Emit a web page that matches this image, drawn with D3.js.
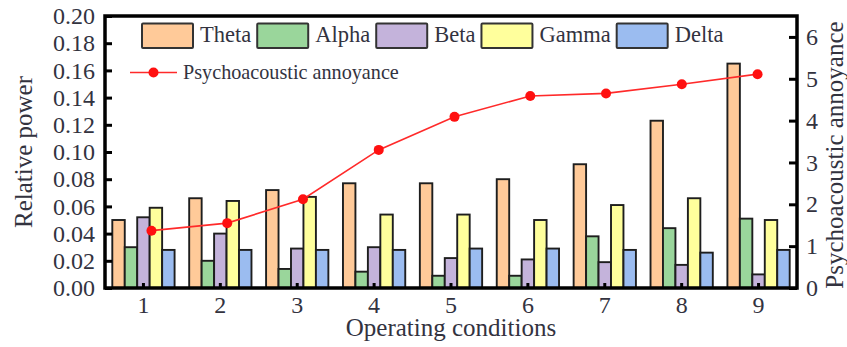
<!DOCTYPE html>
<html><head><meta charset="utf-8">
<script src="https://cdn.jsdelivr.net/npm/d3@7"></script>
<style>
body{margin:0;background:#fff;}
svg{display:block;font-family:"Liberation Serif","Times New Roman",serif;}
</style></head>
<body><svg id="chart" width="847" height="347"></svg>
<script>
const categories = ["1","2","3","4","5","6","7","8","9"];
const seriesNames = ["Theta","Alpha","Beta","Gamma","Delta"];
const theta = [0.050,0.066,0.072,0.077,0.077,0.080,0.091,0.123,0.165];
const alpha = [0.030,0.020,0.014,0.012,0.009,0.009,0.038,0.044,0.051];
const beta  = [0.052,0.040,0.029,0.030,0.022,0.021,0.019,0.017,0.010];
const gamma = [0.059,0.064,0.067,0.054,0.054,0.050,0.061,0.066,0.050];
const delta = [0.028,0.028,0.028,0.028,0.029,0.029,0.028,0.026,0.028];
const annoyance = [1.37,1.55,2.12,3.30,4.09,4.59,4.65,4.87,5.11];
const leftTicks = [0,0.02,0.04,0.06,0.08,0.10,0.12,0.14,0.16,0.18,0.20];
const rightTicks = [0,1,2,3,4,5,6];
const colors = ["#ffca99","#9ad69b","#c4b3db","#ffff9c","#9bbcf0"];
const seriesValues = [theta,alpha,beta,gamma,delta];

const svg = d3.select("#chart");
const L=105,R=797,T=16,B=288;
const textColor="#33333f";

const x = d3.scaleBand().domain(categories).range([L,R]).paddingInner(0.19).paddingOuter(0.095);
const xs = d3.scaleBand().domain(seriesNames).range([0,x.bandwidth()]);
const y = d3.scaleLinear().domain([0,0.2]).range([B,T]);
const y2 = d3.scaleLinear().domain([0,6.5]).range([B,T]);
const xl = d3.scaleLinear().domain([1,9]).range([x("1")+x.bandwidth()/2+8, x("9")+x.bandwidth()/2-1]);

// bars
const g = svg.append("g");
seriesNames.forEach((s,si)=>{
  g.selectAll(null).data(categories).enter().append("rect")
    .attr("x",c=>x(c)+xs(s))
    .attr("y",(c,i)=>y(seriesValues[si][i]))
    .attr("width",xs.bandwidth())
    .attr("height",(c,i)=>B-y(seriesValues[si][i]))
    .attr("fill",colors[si]).attr("stroke","#1e1e1e").attr("stroke-width",1.9);
});

// axes
const axL = svg.append("g").attr("transform",`translate(${L},0)`)
  .call(d3.axisLeft(y).tickValues(leftTicks).tickFormat(d3.format(".2f")).tickSizeInner(-7).tickSizeOuter(0).tickPadding(10));
const axR = svg.append("g").attr("transform",`translate(${R},0)`)
  .call(d3.axisRight(y2).tickValues(rightTicks).tickFormat(d3.format("d")).tickSizeInner(-8).tickSizeOuter(0).tickPadding(9));
const axB = svg.append("g").attr("transform",`translate(0,${B})`)
  .call(d3.axisBottom(x).tickSizeInner(-5).tickSizeOuter(0).tickPadding(12));
[axL,axR,axB].forEach(a=>{
  a.select(".domain").remove();
  a.selectAll(".tick line").attr("stroke","#000").attr("stroke-width",3);
  a.selectAll(".tick text").attr("fill",textColor).attr("font-size",24).attr("font-family","Liberation Serif");
});
axB.selectAll(".tick text").attr("dy","0.55em");

// frame
svg.append("rect").attr("x",L).attr("y",T).attr("width",R-L).attr("height",B-T)
  .attr("fill","none").attr("stroke","#000").attr("stroke-width",3.5);

// line
svg.append("path").datum(annoyance)
  .attr("d",d3.line().x((d,i)=>xl(i+1)).y(d=>y2(d)))
  .attr("fill","none").attr("stroke","#ff2a2a").attr("stroke-width",1.6);
svg.selectAll(null).data(annoyance).enter().append("circle")
  .attr("cx",(d,i)=>xl(i+1)).attr("cy",d=>y2(d)).attr("r",5).attr("fill","#ff1010");

// titles
svg.append("text").attr("x",(L+R)/2).attr("y",336).attr("text-anchor","middle")
  .attr("font-size",25).attr("fill",textColor).text("Operating conditions");
svg.append("text").attr("transform",`translate(32,${(T+B)/2}) rotate(-90)`).attr("text-anchor","middle")
  .attr("font-size",25).attr("fill",textColor).text("Relative power");
svg.append("text").attr("transform",`translate(843,155) rotate(-90)`).attr("text-anchor","middle")
  .attr("font-size",25).attr("fill",textColor).text("Psychoacoustic annoyance");

// legend
let lx = 142;
seriesNames.forEach((s,si)=>{
  svg.append("rect").attr("x",lx).attr("y",23.5).attr("width",51).attr("height",24.5)
    .attr("fill",colors[si]).attr("stroke","#333").attr("stroke-width",2).attr("rx",1);
  const t = svg.append("text").attr("x",lx+58).attr("y",42).attr("font-size",22.5)
    .attr("fill",textColor).text(s);
  lx = lx + 58 + t.node().getComputedTextLength() + 6;
});
svg.append("line").attr("x1",130).attr("x2",177).attr("y1",72.5).attr("y2",72.5)
  .attr("stroke","#ff2a2a").attr("stroke-width",1.6);
svg.append("circle").attr("cx",153.5).attr("cy",72.5).attr("r",5).attr("fill","#ff1010");
svg.append("text").attr("x",183).attr("y",78.5).attr("font-size",20.2).attr("fill",textColor)
  .text("Psychoacoustic annoyance");
</script></body></html>
